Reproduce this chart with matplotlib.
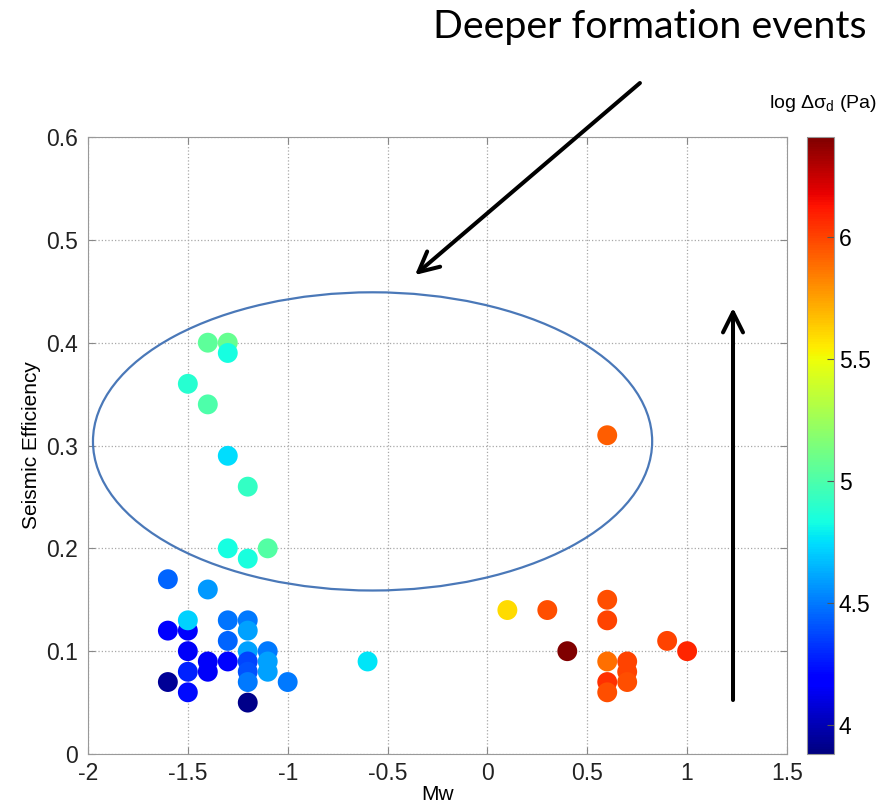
import matplotlib.pyplot as plt
import numpy as np
from matplotlib.patches import Ellipse

# event data: moment magnitude, seismic efficiency, log stress drop (Pa)
mw = [-1.4, -1.3, -1.3, -1.5, -1.4, -1.3, -1.2, -1.3, -1.2, -1.1,
      -1.6, -1.4, -1.6, -1.5, -1.5, -1.3, -1.2, -1.2, -1.3, -1.5,
      -1.2, -1.1, -1.4, -1.3, -1.2, -1.1, -1.4, -1.5, -1.2, -1.1,
      -1.6, -1.2, -1.0, -1.5, -1.2, -0.6,
      0.1, 0.3, 0.4, 0.6, 0.6, 0.6, 0.7, 0.7, 0.7, 0.6, 0.6, 0.9, 1.0, 0.6]
eff = [0.40, 0.40, 0.39, 0.36, 0.34, 0.29, 0.26, 0.20, 0.19, 0.20,
       0.17, 0.16, 0.12, 0.12, 0.13, 0.13, 0.13, 0.12, 0.11, 0.10,
       0.10, 0.10, 0.09, 0.09, 0.09, 0.09, 0.08, 0.08, 0.08, 0.08,
       0.07, 0.07, 0.07, 0.06, 0.05, 0.09,
       0.14, 0.14, 0.10, 0.15, 0.13, 0.09, 0.09, 0.08, 0.07, 0.07, 0.06, 0.11, 0.10, 0.31]
log_sd = [5.05, 5.08, 4.83, 4.88, 5.00, 4.74, 4.92, 4.83, 4.84, 5.02,
          4.45, 4.58, 4.16, 4.18, 4.72, 4.49, 4.50, 4.60, 4.45, 4.15,
          4.60, 4.50, 4.15, 4.20, 4.37, 4.60, 4.15, 4.28, 4.40, 4.60,
          3.93, 4.50, 4.50, 4.22, 3.90, 4.76,
          5.59, 5.97, 6.41, 5.97, 6.00, 5.88, 6.00, 6.00, 5.97, 6.05, 5.97, 6.00, 6.08, 5.93]
cbar_lim = (3.88, 6.41)

xticks = [-2, -1.5, -1, -0.5, 0, 0.5, 1, 1.5]
xtick_labels = ['-2', '-1.5', '-1', '-0.5', '0', '0.5', '1', '1.5']
yticks = [0, 0.1, 0.2, 0.3, 0.4, 0.5, 0.6]
ytick_labels = ['0', '0.1', '0.2', '0.3', '0.4', '0.5', '0.6']

plt.rcParams['font.family'] = ['Liberation Sans', 'DejaVu Sans']
plt.rcParams['mathtext.default'] = 'regular'

fig = plt.figure(figsize=(8.95, 8.06), dpi=100)
ax = fig.add_axes([0.0983, 0.0645, 0.781, 0.7655])
cax = fig.add_axes([0.9017, 0.0645, 0.0302, 0.7655])

sc = ax.scatter(mw, eff, c=log_sd, cmap='jet', vmin=cbar_lim[0], vmax=cbar_lim[1],
                s=205, edgecolors='none', zorder=3)

# highlight ellipse around the deeper events
ell = Ellipse((-0.575, 0.304), 2.8, 0.29, fill=False, edgecolor='#4a78b8',
              linewidth=1.6, zorder=4)
ax.add_patch(ell)

ax.set_xlim(-2, 1.5)
ax.set_ylim(0, 0.6)
ax.set_xticks(xticks, labels=xtick_labels)
ax.set_yticks(yticks, labels=ytick_labels)
ax.tick_params(direction='in', labelsize=16.5, colors='#222222', length=5,
               top=True, right=True)
ax.tick_params(axis='both', color='#888888')
ax.tick_params(axis='x', pad=6)
ax.tick_params(axis='y', pad=7)
ax.grid(True, linestyle=':', color='#a8a8a8', linewidth=0.9, zorder=0)
for sp in ax.spines.values():
    sp.set_color('#999999')
ax.set_xlabel('Mw', fontsize=15, labelpad=0)
ax.set_ylabel('Seismic Efficiency', fontsize=15, labelpad=4)

cb = fig.colorbar(sc, cax=cax)
cb.set_ticks([4, 4.5, 5, 5.5, 6])
cb.ax.set_yticklabels(['4', '4.5', '5', '5.5', '6'])
cb.ax.tick_params(direction='in', labelsize=16.5, length=5, color='#555555')
cb.outline.set_edgecolor('#999999')
fig.text(0.919, 0.872, r'log $\Delta\sigma_{d}$ (Pa)', ha='center', va='center', fontsize=14)

# annotation text and arrows
fig.text(0.7257, 0.953, 'Deeper formation events', ha='center', va='baseline',
         fontsize=28.4, family=['Lato', 'DejaVu Sans'])
ax.annotate('', xy=(0.4637, 0.6588), xycoords='figure fraction',
            xytext=(0.715, 0.897), textcoords='figure fraction',
            arrowprops=dict(arrowstyle='->', lw=2.9, color='black', mutation_scale=36,
                            shrinkA=0, shrinkB=0))
ax.annotate('', xy=(0.819, 0.618), xycoords='figure fraction',
            xytext=(0.819, 0.1315), textcoords='figure fraction',
            arrowprops=dict(arrowstyle='->', lw=2.9, color='black', mutation_scale=36,
                            shrinkA=0, shrinkB=0))

fig.savefig('out.png', dpi=100)
